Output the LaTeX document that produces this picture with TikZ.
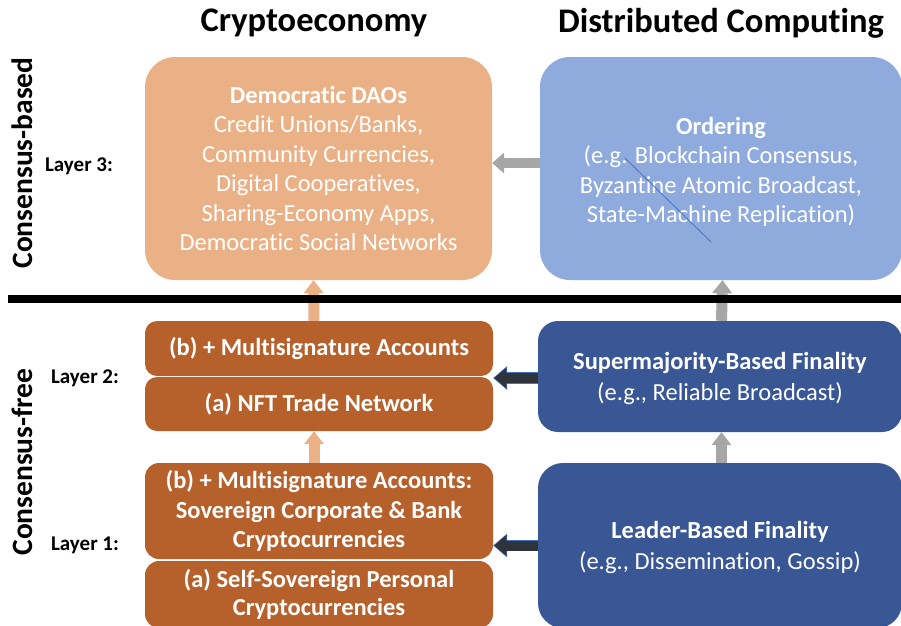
\documentclass[tikz,border=0pt]{standalone}
\usepackage{fontspec}
\setmainfont[Ligatures=NoCommon]{Carlito}
\usetikzlibrary{arrows.meta}
\definecolor{lorange}{HTML}{EBB186}
\definecolor{dorange}{HTML}{B6602C}
\definecolor{lblue}{HTML}{8FAADC}
\definecolor{dblue}{HTML}{3A5795}
\definecolor{agray}{HTML}{A6A6A6}
\definecolor{adark}{HTML}{2F333B}
\definecolor{aline}{HTML}{4472C4}
\tikzset{
  box/.style={inner sep=0pt, align=center, text=white, font=\fontsize{24.5}{29.5}\selectfont},
  hdr/.style={inner sep=0pt, font=\fontsize{34.5}{40}\selectfont\bfseries},
  side/.style={inner sep=0pt, rotate=90, font=\fontsize{29.5}{32}\selectfont\bfseries},
  layerlbl/.style={inner sep=0pt, font=\fontsize{21}{25}\selectfont\bfseries},
  harrow/.style={line width=10pt, -{Triangle[width=21pt,length=12pt,line width=0pt]}},
  varrow/.style={line width=11pt, -{Triangle[width=20pt,length=13pt,line width=0pt]}},
}
\begin{document}
\begin{tikzpicture}[x=1pt,y=-1pt]
\clip (0,0) rectangle (901,625);
\useasboundingbox (0,0) rectangle (901,625);
\fill[white] (0,0) rectangle (901,625);

% headers
\node[hdr] (h1) at (314,23) {Cryptoeconomy};
\node[hdr] (h2) at (721,23) {Distributed Computing};

% side labels
\node[side] (s1) at (22,163) {Consensus-based};
\node[side] (s2) at (22,462) {Consensus-free};
\node[layerlbl] (ly3) at (79,166) {Layer 3:};
\node[layerlbl] (ly2) at (85,378) {Layer 2:};
\node[layerlbl] (ly1) at (85,545) {Layer 1:};

% boxes
\node[box, fill=lorange, rounded corners=30pt, minimum width=347pt, minimum height=223pt] (dao) at (318.5,168.5)
  {\textbf{Democratic DAOs}\\Credit Unions/Banks,\\Community Currencies,\\Digital Cooperatives,\\Sharing-Economy Apps,\\Democratic Social Networks};
\node[box, fill=lblue, rounded corners=30pt, minimum width=362pt, minimum height=223pt] (ord) at (721,168.5)
  {\rule{0pt}{24pt}\textbf{Ordering}\\(e.g. Blockchain Consensus,\\Byzantine Atomic Broadcast,\\State-Machine Replication)};

\node[box, fill=dorange, rounded corners=12pt, minimum width=348pt, minimum height=55pt, font=\fontsize{24.5}{29.5}\selectfont\bfseries] (l2b) at (319,348.5)
  {(b) + Multisignature Accounts};
\node[box, fill=dorange, rounded corners=12pt, minimum width=348pt, minimum height=54pt, font=\fontsize{24.5}{29.5}\selectfont\bfseries] (l2a) at (319,404)
  {(a) NFT Trade Network};
\node[box, fill=dorange, rounded corners=14pt, minimum width=348pt, minimum height=96pt, font=\fontsize{24.5}{29.8}\selectfont\bfseries] (l1b) at (319,511)
  {(b) + Multisignature Accounts:\\Sovereign Corporate \& Bank\\Cryptocurrencies};
\node[box, fill=dorange, rounded corners=14pt, minimum width=348pt, minimum height=67pt, font=\fontsize{24.5}{28.5}\selectfont\bfseries] (l1a) at (319,594.5)
  {(a) Self-Sovereign Personal\\Cryptocurrencies};

\node[box, fill=dblue, rounded corners=20pt, minimum width=364pt, minimum height=111pt, font=\fontsize{24.5}{31}\selectfont] (sup) at (720,376.5)
  {\rule{0pt}{21pt}\textbf{Supermajority-Based Finality}\\(e.g., Reliable Broadcast)};
\node[box, fill=dblue, rounded corners=25pt, minimum width=364pt, minimum height=165pt, font=\fontsize{24.5}{30.5}\selectfont] (lead) at (720,545.5)
  {\rule{0pt}{21pt}\textbf{Leader-Based Finality}\\(e.g., Dissemination, Gossip)};

% stray thin line in the ordering box
\coordinate (sl1) at (625,158);
\coordinate (sl2) at (711,242);
\draw[aline, line width=0.8pt] (sl1) -- (sl2);

% horizontal arrows
\draw[harrow, agray] ([yshift=5.5pt]ord.west) -- ([yshift=5.5pt]ord.west -| dao.east);
\draw[harrow, aline, line width=11.6pt, -{Triangle[width=24pt,length=14pt,line width=0pt]}] ([yshift=-1.5pt]sup.west) -- ([yshift=-1.5pt]sup.west -| l2a.east);
\draw[harrow, adark, shorten >=1.2pt] ([yshift=-1.5pt]sup.west) -- ([yshift=-1.5pt]sup.west -| l2a.east);
\draw[harrow, aline, line width=11.6pt, -{Triangle[width=24pt,length=14pt,line width=0pt]}] (lead.west) -- (lead.west -| l1b.east);
\draw[harrow, adark, shorten >=1.2pt] (lead.west) -- (lead.west -| l1b.east);

% vertical arrows
\draw[varrow, lorange] ([xshift=-5pt]l2b.north) -- ([xshift=-5pt]dao.south);
\draw[varrow, lorange] ([xshift=-5pt]l1b.north) -- ([xshift=-5pt]l2a.south);
\draw[varrow, agray] ([xshift=1.5pt]sup.north) -- ([xshift=1.5pt]ord.south);
\draw[varrow, agray] ([xshift=1.5pt]lead.north) -- ([xshift=1.5pt]sup.south);

% separator bar
\coordinate (b1) at (8,299);
\coordinate (b2) at (901,299);
\draw[black, line width=8pt] (b1) -- (b2);
\end{tikzpicture}
\end{document}
